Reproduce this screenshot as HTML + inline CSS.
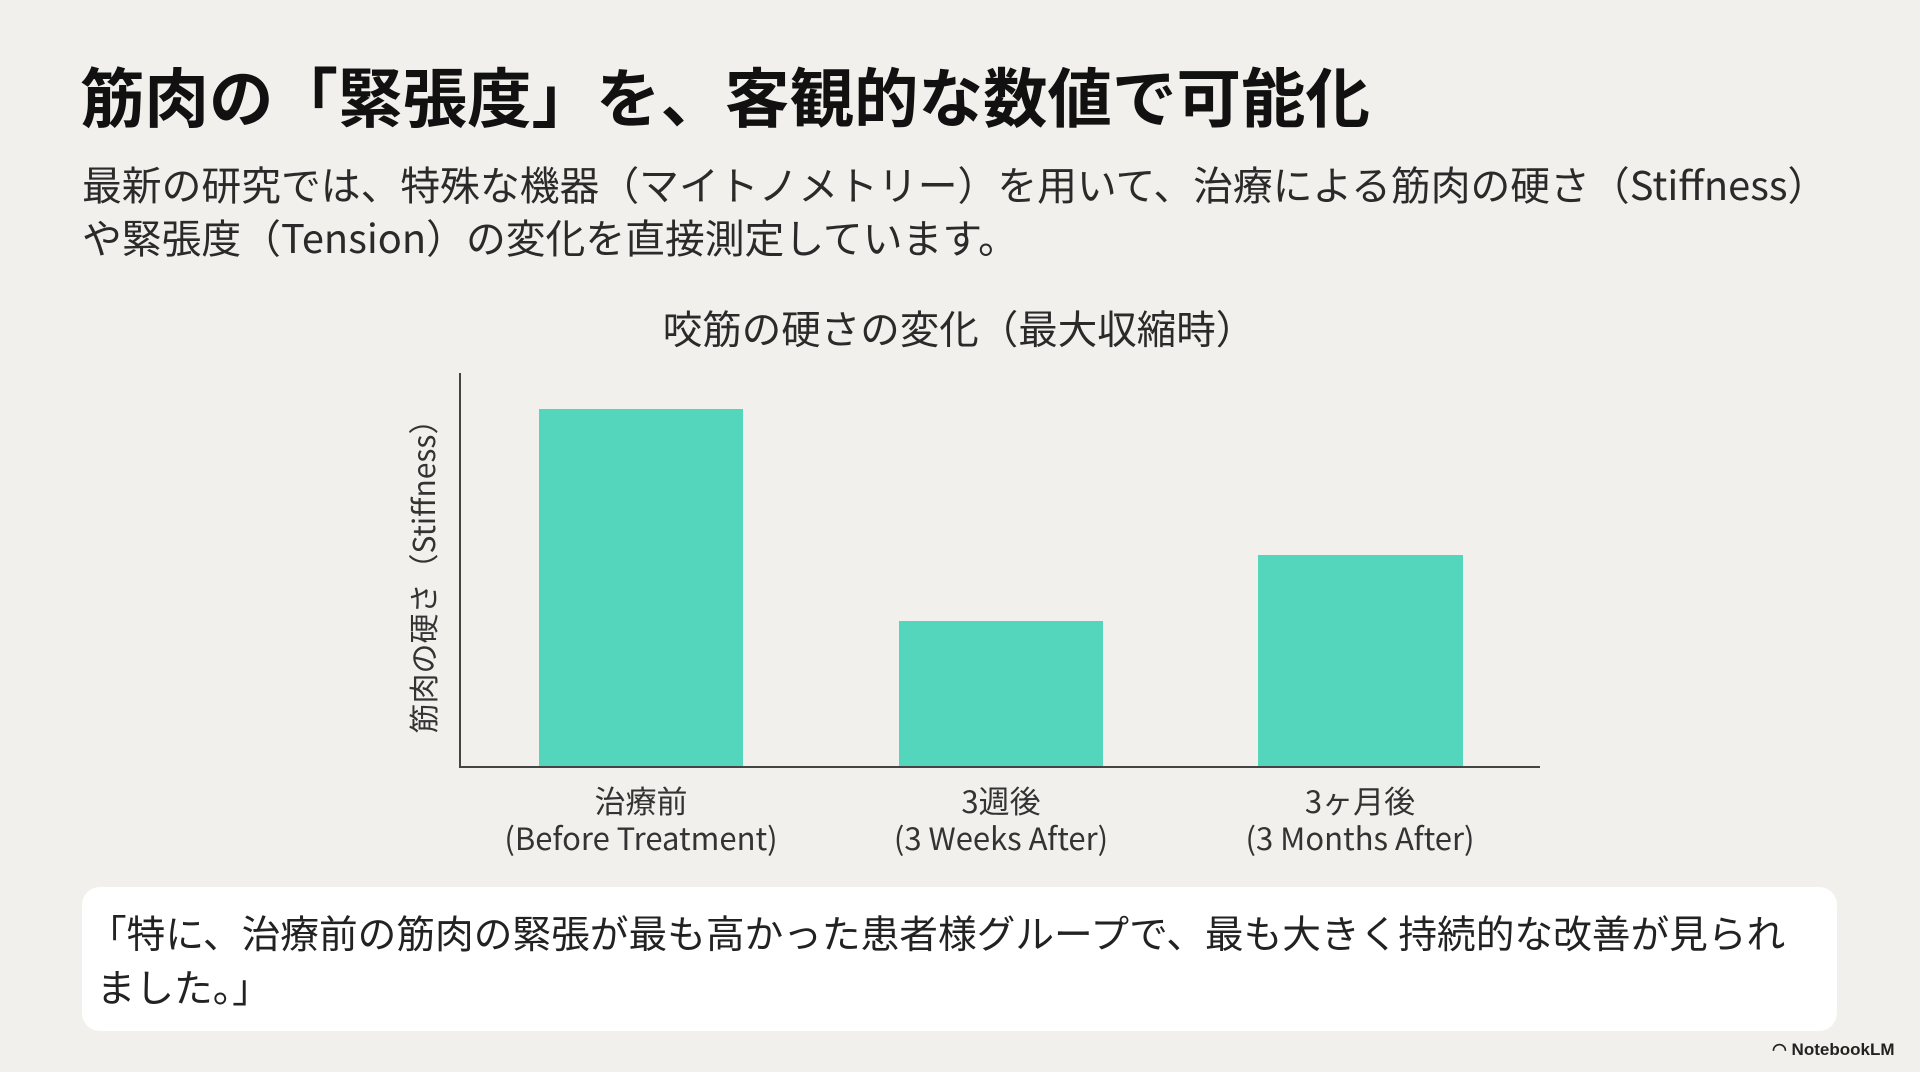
<!DOCTYPE html>
<html><head><meta charset="utf-8"><style>
body{margin:0;width:1920px;height:1072px;background:#f2f0ec;position:relative;overflow:hidden;font-family:"Liberation Sans","Noto Sans CJK JP",sans-serif;color:#1e1e1e}
.a{position:absolute;white-space:nowrap}
.bar{position:absolute;background:#53d6bb}
.lbl{position:absolute;width:400px;text-align:center;font-size:31px;line-height:37px;color:#333;font-family:"Noto Sans CJK JP",sans-serif}
</style></head><body>
<div class="a" style="left:80px;top:52px;font-size:64.5px;font-weight:bold;font-family:'Noto Sans CJK JP',sans-serif;line-height:84px;color:#111">筋肉の「緊張度」を、客観的な数値で可能化</div>
<div class="a" style="left:82px;top:157px;font-size:39.8px;line-height:53px;font-family:'Noto Sans CJK JP',sans-serif;color:#2a2a2a">最新の研究では、特殊な機器（マイトノメトリー）を用いて、治療による筋肉の硬さ（Stiffness）<br>や緊張度（Tension）の変化を直接測定しています。</div>
<div class="a" style="left:0;width:1918px;text-align:center;top:304px;font-size:39.5px;line-height:48px;font-family:'Noto Sans CJK JP',sans-serif;color:#2a2a2a">咬筋の硬さの変化（最大収縮時）</div>
<div style="position:absolute;left:459px;top:373px;width:2px;height:395px;background:#444"></div>
<div style="position:absolute;left:459px;top:766px;width:1081px;height:2px;background:#444"></div>
<div class="bar" style="left:539px;top:409px;width:204px;height:357px"></div>
<div class="bar" style="left:899px;top:621px;width:204px;height:145px"></div>
<div class="bar" style="left:1258px;top:555px;width:205px;height:211px"></div>
<div class="lbl" style="left:441px;top:781px">治療前<br>(Before Treatment)</div>
<div class="lbl" style="left:801px;top:781px">3週後<br>(3 Weeks After)</div>
<div class="lbl" style="left:1160px;top:781px">3ヶ月後<br>(3 Months After)</div>
<div class="a" style="left:422px;top:569px;transform:translate(-50%,-50%) rotate(-90deg);font-size:30px;font-family:'Noto Sans CJK JP',sans-serif;color:#333">筋肉の硬さ（Stiffness）</div>
<div style="position:absolute;left:82px;top:887px;width:1755px;height:144px;background:#fff;border-radius:18px"></div>
<div class="a" style="left:88px;top:905px;font-size:38.7px;line-height:54px;font-family:'Noto Sans CJK JP',sans-serif;color:#222">「特に、治療前の筋肉の緊張が最も高かった患者様グループで、最も大きく持続的な改善が見られ<br>&nbsp;ました。」</div>
<div class="a" style="left:1772px;top:1040px;font-size:17px;font-weight:bold;color:#222">◠ NotebookLM</div>
</body></html>
